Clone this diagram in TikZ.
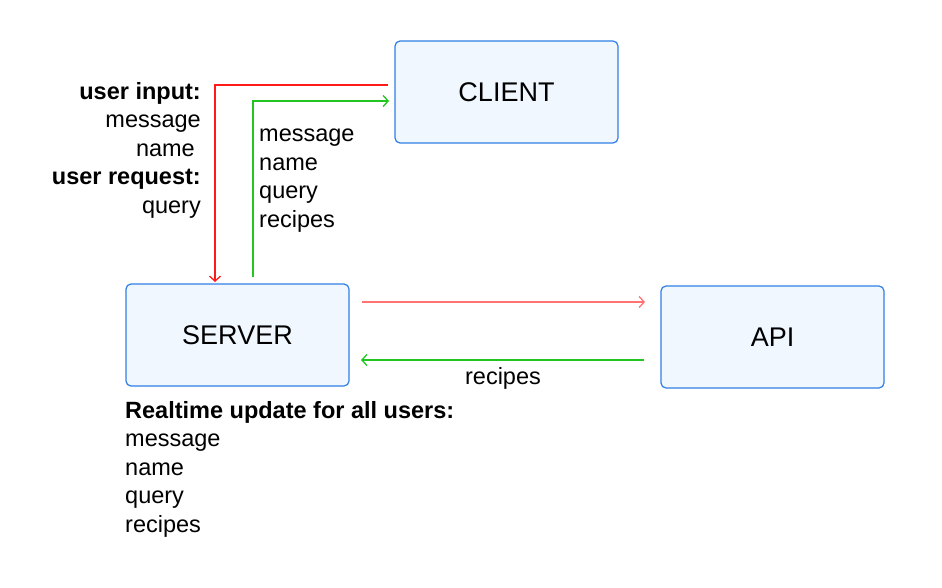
\documentclass[tikz,border=0pt]{standalone}
\usepackage{fontspec}
\setmainfont{Liberation Sans}
\usetikzlibrary{arrows.meta}
\definecolor{boxfill}{HTML}{F0F7FF}
\definecolor{boxline}{HTML}{2F80E6}
\definecolor{myred}{HTML}{FF1A1A}
\definecolor{mylightred}{HTML}{FF7373}
\definecolor{mygreen}{HTML}{22C522}
\tikzset{
  box/.style={draw=boxline, fill=boxfill, line width=1.2pt, rounded corners=5pt,
    minimum width=223pt, minimum height=102pt, inner sep=0pt,
    font=\fontsize{27}{32}\selectfont},
  lbl/.style={inner sep=0pt, font=\fontsize{23.5}{28.5}\selectfont},
  conn/.style={line width=1.3pt, -{Straight Barb[length=5pt,width=11pt]}},
}
\begin{document}
\begin{tikzpicture}[x=1pt,y=-1pt]
\useasboundingbox (0,0) rectangle (942,588);
\node[box] (client) at (506.5,92) {CLIENT};
\node[box] (server) at (237.5,335) {SERVER};
\node[box] (api) at (772.5,337) {API};

\coordinate (r1) at (388,85);
\coordinate (r2) at (215,85);
\coordinate (r3) at (215,282);
\coordinate (g1) at (253,277);
\coordinate (g2) at (253,101);
\coordinate (g3) at (389,101);
\coordinate (s1) at (362,302);
\coordinate (s2) at (645,302);
\coordinate (a1) at (644,360);
\coordinate (a2) at (361,360);

\draw[conn, draw=myred] (r1) -- (r2) -- (r3);
\draw[conn, draw=mygreen] (g1) -- (g2) -- (g3);
\draw[conn, draw=mylightred] (s1) -- (s2);
\draw[conn, draw=mygreen] (a1) -- (a2);

\node[lbl, anchor=north east, align=right] (inlbl) at (201,82)
  {\textbf{user input:}\\message\\name\kern6pt\\\textbf{user request:}\\query};
\node[lbl, anchor=north west, align=left] (midlbl) at (259,129)
  {message\\name\\query\\recipes};
\node[lbl, anchor=north] (reclbl) at (503,367) {recipes};
\node[lbl, anchor=north west, align=left] (rtlbl) at (125,401)
  {\textbf{Realtime update for all users:}\\message\\name\\query\\recipes};
\end{tikzpicture}
\end{document}
